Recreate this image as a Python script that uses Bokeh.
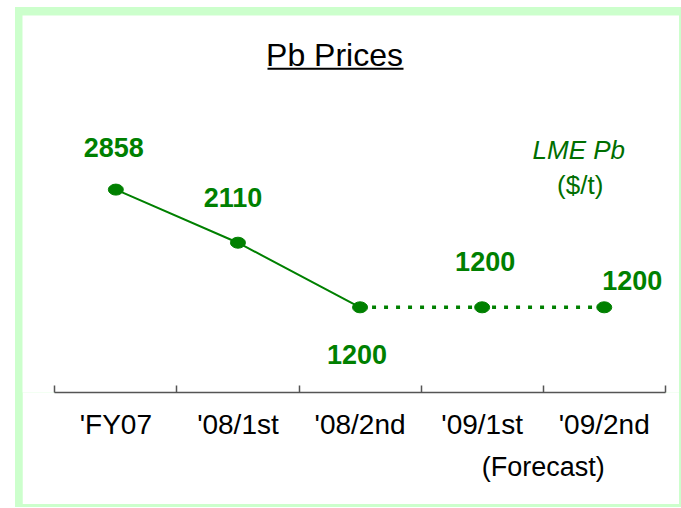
from bokeh.plotting import figure
from bokeh.models import Range1d, FixedTicker, LinearAxis, ColumnDataSource
from bokeh.layouts import column
from bokeh.embed import file_html
from bokeh.resources import INLINE
from bokeh.core.properties import value

# ---------------- data ----------------
categories = ["'FY07", "'08/1st", "'08/2nd", "'09/1st", "'09/2nd"]
prices = [2858, 2110, 1200, 1200, 1200]
price_labels = ["2858", "2110", "1200", "1200", "1200"]
actual_idx = [0, 1, 2]
forecast_idx = [2, 3, 4]
title_text = "Pb Prices"
series_name = "LME Pb"
unit_text = "($/t)"
forecast_text = "(Forecast)"
forecast_pos = 3.5

# ---------------- layout / style ----------------
GREEN = "#008000"
DARK_GREEN = "#006E00"
FONT = "Liberation Sans"
W, H = 657, 489
FRAME_H = 377
PX_PER_CAT = 122.1
X_LEFT_PX = 32.3
PX_PER_UNIT_Y = 0.07099
x_start = -0.5 - X_LEFT_PX / PX_PER_CAT
x_end = x_start + W / PX_PER_CAT
y_start = 0.0
y_end = FRAME_H / PX_PER_UNIT_Y


def X(px):
    return x_start + px / PX_PER_CAT


def Y(py):
    return y_end - py / PX_PER_UNIT_Y


label_dx = [-2, -5, -3, 3, 28]
label_dy = [-42, -45, 47, -46, -27]

p = figure(width=W, height=H, output_backend="svg", toolbar_location=None,
           x_range=Range1d(x_start, x_end), y_range=Range1d(y_start, y_end),
           x_axis_location=None, y_axis_location=None,
           min_border_left=0, min_border_right=0, min_border_top=0,
           min_border_bottom=H - FRAME_H)
p.outline_line_color = None
p.background_fill_color = "white"
p.border_fill_color = "white"
p.xgrid.visible = False
p.ygrid.visible = False

xs = list(range(len(categories)))

# category axis
ax = LinearAxis(ticker=FixedTicker(ticks=xs, minor_ticks=[i - 0.5 for i in range(len(categories) + 1)]))
ax.bounds = (-0.5, len(categories) - 0.5)
ax.major_label_overrides = {i: c for i, c in enumerate(categories)}
ax.major_tick_line_color = None
ax.minor_tick_in = 7
ax.minor_tick_out = 0
ax.minor_tick_line_color = "#555555"
ax.minor_tick_line_width = 1.5
ax.axis_line_color = "#555555"
ax.axis_line_width = 1.5
ax.major_label_text_font = FONT
ax.major_label_text_font_size = "28px"
ax.major_label_text_color = "black"
ax.major_label_standoff = 10
p.add_layout(ax, "below")

# second row of labels: forecast note
ax2 = LinearAxis(ticker=FixedTicker(ticks=[forecast_pos], minor_ticks=[]))
ax2.major_label_overrides = {forecast_pos: forecast_text}
ax2.axis_line_color = None
ax2.major_tick_line_color = None
ax2.minor_tick_line_color = None
ax2.major_label_text_font = FONT
ax2.major_label_text_font_size = "27px"
ax2.major_label_text_color = "black"
ax2.major_label_standoff = 3
p.add_layout(ax2, "below")

# lines
p.line([xs[i] for i in actual_idx], [prices[i] for i in actual_idx],
       line_color=GREEN, line_width=2)
p.line([xs[i] for i in forecast_idx], [prices[i] for i in forecast_idx],
       line_color=GREEN, line_width=3.5, line_dash="4 8")
p.ellipse(x=xs, y=prices, width=15, height=11, width_units="screen",
          height_units="screen", fill_color=GREEN, line_color=GREEN)

# value labels
src = ColumnDataSource(dict(x=xs, y=prices, t=price_labels, dx=label_dx, dy=label_dy))
p.text(x="x", y="y", text="t", x_offset="dx", y_offset="dy", source=src,
       text_font=value(FONT), text_font_size="27px", text_font_style="bold",
       text_color=GREEN, text_align="center", text_baseline="middle")

# title with underline
p.text(x=[X(312)], y=[Y(39)], text=[title_text], text_font=value(FONT),
       text_font_size="32px", text_color="black", text_align="center",
       text_baseline="middle")
p.line([X(245), X(381)], [Y(53.3), Y(53.3)], line_color="black", line_width=2)

# series annotation
p.text(x=[X(556.3)], y=[Y(134)], text=[series_name], text_font=value(FONT),
       text_font_size="26px", text_font_style="italic", text_color=DARK_GREEN,
       text_align="center", text_baseline="middle")
p.text(x=[X(557.7)], y=[Y(169)], text=[unit_text], text_font=value(FONT),
       text_font_size="26px", text_color=DARK_GREEN,
       text_align="center", text_baseline="middle")

layout = column(p, styles={"background-color": "#CCFFCC",
                           "padding": "8px 2px 3px 7px",
                           "margin-left": "15px",
                           "margin-top": "7px"})

open("out.html", "w").write(file_html(layout, INLINE))
